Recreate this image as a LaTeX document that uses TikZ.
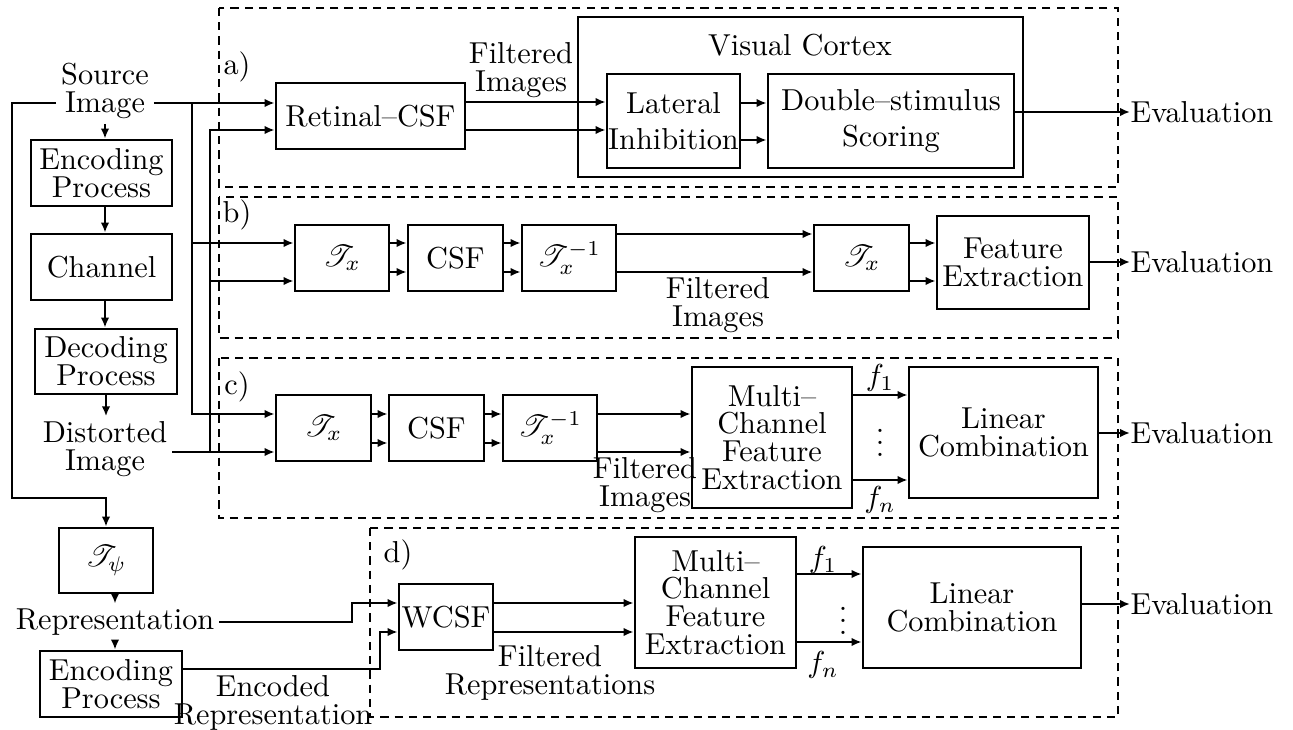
\documentclass[tikz,border=0pt]{standalone}
\usepackage{fontspec}
\usepackage{amsmath}
\usepackage{mathrsfs}
\usetikzlibrary{arrows.meta}

\begin{document}
\begin{tikzpicture}[x=0.33pt, y=-0.33pt,
  blk/.style 2 args={draw, line width=0.9pt, inner sep=0pt, align=center,
    minimum width=#1*0.33pt, minimum height=#2*0.33pt},
  lbl/.style={inner sep=1.5pt, align=center},
  tight/.style={font=\fontsize{10pt}{9.2pt}\selectfont},
  eval/.style={anchor=west, inner sep=0pt},
  feat/.style={inner sep=0pt},
  arr/.style={line width=0.9pt, -{Latex[length=3.3pt,width=2.8pt]}},
  grp/.style={line width=0.8pt, dash pattern=on 2.7pt off 2pt}]
  \useasboundingbox (0,0) rectangle (1293,730);

  \draw[grp] (219,8) rectangle (1118,187);
  \draw[grp] (219,197) rectangle (1118,338);
  \draw[grp] (219,358) rectangle (1118,518);
  \draw[grp] (370,528) rectangle (1118,717);
  \node (la) at (237,67) {a)};
  \node (lb) at (237,215) {b)};
  \node (lc) at (237,387) {c)};
  \node (ld) at (398,555) {d)};

  \node[lbl, tight] (src) at (105,91) {Source\\Image};
  \node[blk={141}{66}, tight] (enc1) at (101.5,173) {Encoding\\Process};
  \node[blk={141}{66}] (chan) at (101.5,267) {Channel};
  \node[blk={142}{65}, tight] (dec) at (106,361.5) {Decoding\\Process};
  \node[lbl, tight] (dist) at (105,449) {Distorted\\Image};
  \node[blk={94}{65}] (tpsi) at (106,560.5) {$\mathscr{T}_\psi$};
  \node[lbl] (rep) at (115,622) {Representation};
  \node[blk={142}{66}, tight] (enc2) at (111,684) {Encoding\\Process};
  \node[lbl, tight] (encrep) at (273,703) {Encoded\\Representation};

  \coordinate (js) at (192,103);
  \coordinate (jd) at (210,452);
  \coordinate (lp) at (12,498);
  \coordinate (kr) at (352,622);
  \coordinate (ke) at (380,669);

  \node[blk={189}{66}] (ret) at (370.5,116) {Retinal--CSF};
  \node[blk={445}{160}] (vc) at (800.5,97) {};
  \node (vclab) at (800,45) {Visual Cortex};
  \node[blk={133}{94}] (lat) at (673.5,121) {Lateral\\Inhibition};
  \node[blk={246}{94}] (dbl) at (891,121) {Double--stimulus\\Scoring};
  \node[lbl, tight] (fia) at (521,70) {Filtered\\Images};
  \node[eval] (eva) at (1130,112) {Evaluation};

  \node[blk={94}{66}] (txb) at (342,258) {$\mathscr{T}_x$};
  \node[blk={95}{66}] (csfb) at (455.5,258) {CSF};
  \node[blk={94}{66}] (itxb) at (569,258) {$\mathscr{T}_x^{-1}$};
  \node[blk={95}{66}] (txb2) at (861.5,258) {$\mathscr{T}_x$};
  \node[blk={152}{93}, tight] (feb) at (1013,262.5) {Feature\\Extraction};
  \node[lbl, tight] (fib) at (718,305) {Filtered\\Images};
  \node[eval] (evb) at (1130,262) {Evaluation};

  \node[blk={95}{66}] (txc) at (323.5,428) {$\mathscr{T}_x$};
  \node[blk={95}{66}] (csfc) at (436.5,428) {CSF};
  \node[blk={94}{66}] (itxc) at (550,428) {$\mathscr{T}_x^{-1}$};
  \node[blk={160}{141}, tight] (mcfe1) at (772,437.5) {Multi--\\Channel\\Feature\\Extraction};
  \node[blk={189}{131}, tight] (linc) at (1003.5,432.5) {Linear\\Combination};
  \node[lbl, tight] (fic) at (645,485) {Filtered\\Images};
  \node[feat] (f1c) at (880,378) {$f_1$};
  \node[feat] (fnc) at (880,500) {$f_n$};
  \node[feat] (vdc) at (880,434) {$\vdots$};
  \node[eval] (evc) at (1130,433) {Evaluation};

  \node[blk={94}{66}] (wcsf) at (446,617) {WCSF};
  \node[blk={161}{131}, tight] (mcfe2) at (715.5,602.5) {Multi--\\Channel\\Feature\\Extraction};
  \node[blk={218}{121}, tight] (linc2) at (972,607.5) {Linear\\Combination};
  \node[lbl, tight] (fid) at (550,673) {Filtered\\Representations};
  \node[feat] (f1d) at (823,560) {$f_1$};
  \node[feat] (fnd) at (823,665) {$f_n$};
  \node[feat] (vdd) at (843,612) {$\vdots$};
  \node[eval] (evd) at (1130,604) {Evaluation};

  \draw[arr] (src.south) -- (src.south |- enc1.north);
  \draw[arr] (src.south |- enc1.south) -- (src.south |- chan.north);
  \draw[arr] (src.south |- chan.south) -- (src.south |- dec.north);
  \draw[arr] (dec.south) -- (dec.south |- dist.north);
  \draw[arr] (src.west |- 0,103) -| (lp) -| (tpsi.north);
  \draw[arr] (rep.north |- tpsi.south) -- (rep.north);
  \draw[arr] (rep.south) -- (rep.south |- enc2.north);

  \draw[arr] (src.east |- 0,103) -- (ret.west |- 0,103);
  \draw[arr] (js) |- (txb.west |- 0,243);
  \draw[arr] (js) |- (txc.west |- 0,414);
  \draw[arr] (dist.east |- 0,452) -- (txc.west |- 0,452);
  \draw[arr] (jd) |- (ret.west |- 0,130);
  \draw[arr] (jd) |- (txb.west |- 0,281);

  \draw[arr] (ret.east |- 0,102) -- (lat.west |- 0,102);
  \draw[arr] (ret.east |- 0,130) -- (lat.west |- 0,130);
  \draw[arr] (lat.east |- 0,103) -- (dbl.west |- 0,103);
  \draw[arr] (lat.east |- 0,140) -- (dbl.west |- 0,140);
  \draw[arr] (dbl.east |- eva.west) -- (eva.west);

  \draw[arr] (txb.east |- 0,243) -- (csfb.west |- 0,243);
  \draw[arr] (txb.east |- 0,272) -- (csfb.west |- 0,272);
  \draw[arr] (csfb.east |- 0,243) -- (itxb.west |- 0,243);
  \draw[arr] (csfb.east |- 0,272) -- (itxb.west |- 0,272);
  \draw[arr] (itxb.east |- 0,234) -- (txb2.west |- 0,234);
  \draw[arr] (itxb.east |- 0,272) -- (txb2.west |- 0,272);
  \draw[arr] (txb2.east |- 0,243) -- (feb.west |- 0,243);
  \draw[arr] (txb2.east |- 0,281) -- (feb.west |- 0,281);
  \draw[arr] (feb.east |- evb.west) -- (evb.west);

  \draw[arr] (txc.east |- 0,414) -- (csfc.west |- 0,414);
  \draw[arr] (txc.east |- 0,443) -- (csfc.west |- 0,443);
  \draw[arr] (csfc.east |- 0,414) -- (itxc.west |- 0,414);
  \draw[arr] (csfc.east |- 0,443) -- (itxc.west |- 0,443);
  \draw[arr] (itxc.east |- 0,414) -- (mcfe1.west |- 0,414);
  \draw[arr] (itxc.east |- 0,452) -- (mcfe1.west |- 0,452);
  \draw[arr] (mcfe1.east |- 0,395) -- (linc.west |- 0,395);
  \draw[arr] (mcfe1.east |- 0,480) -- (linc.west |- 0,480);
  \draw[arr] (linc.east |- evc.west) -- (evc.west);

  \draw[arr] (rep.east) -- (kr) |- (wcsf.west |- 0,603);
  \draw[arr] (enc2.east |- 0,669) -- (ke) |- (wcsf.west |- 0,632);
  \draw[arr] (wcsf.east |- 0,603) -- (mcfe2.west |- 0,603);
  \draw[arr] (wcsf.east |- 0,632) -- (mcfe2.west |- 0,632);
  \draw[arr] (mcfe2.east |- 0,574) -- (linc2.west |- 0,574);
  \draw[arr] (mcfe2.east |- 0,642) -- (linc2.west |- 0,642);
  \draw[arr] (linc2.east |- evd.west) -- (evd.west);
\end{tikzpicture}
\end{document}
